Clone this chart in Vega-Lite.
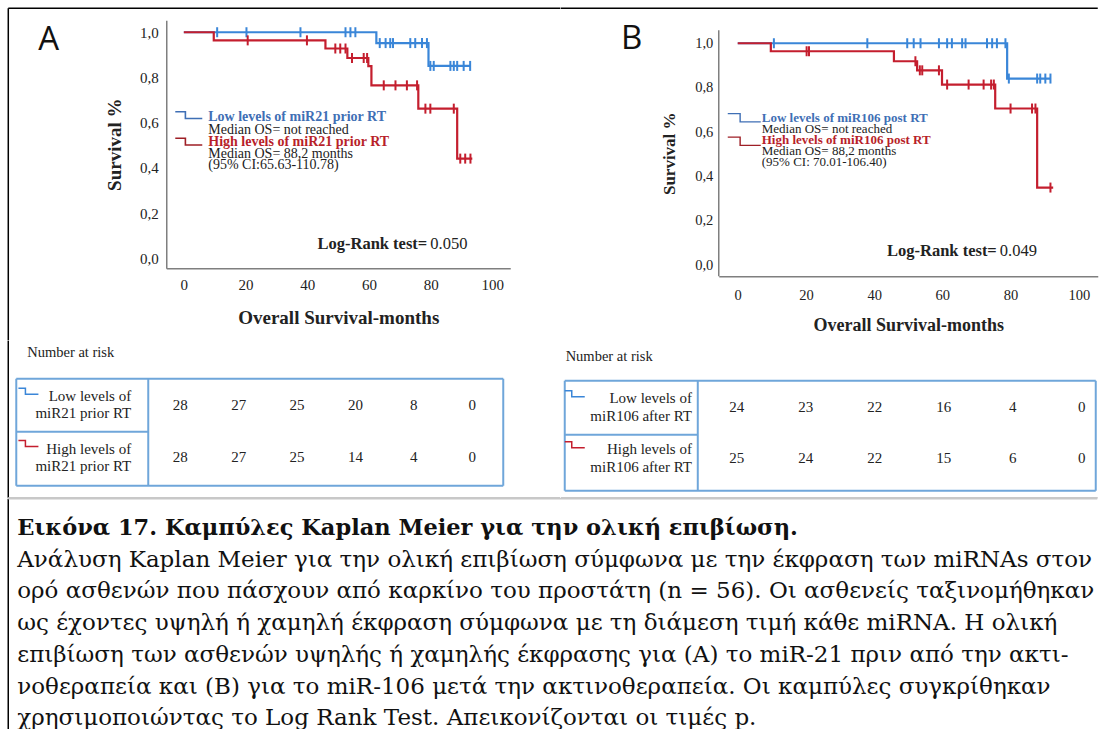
{
  "$schema": "https://vega.github.io/schema/vega-lite/v6.json",
  "background": "white",
  "padding": {"left": 7.25, "top": 7.25, "right": 0, "bottom": 0},
  "config": {
    "font": "Liberation Serif",
    "view": {"stroke": null},
    "axis": {"ticks": false, "grid": false, "domainColor": "#7f7f7f", "domainWidth": 1.5, "labelColor": "#222222", "titleColor": "#222222", "labelFont": "Liberation Serif", "titleFont": "Liberation Serif", "titleFontWeight": "bold"},
    "text": {"font": "Liberation Serif", "color": "#222222"}
  },
  "datasets": {
    "curvesA": [
      {"grp": "Low", "t": 0, "s": 1}, {"grp": "Low", "t": 62.4, "s": 0.952}, {"grp": "Low", "t": 79.3, "s": 0.851}, {"grp": "Low", "t": 92.8, "s": 0.851},
      {"grp": "High", "t": 0, "s": 1}, {"grp": "High", "t": 9.7, "s": 0.964}, {"grp": "High", "t": 45.9, "s": 0.928}, {"grp": "High", "t": 53.0, "s": 0.886}, {"grp": "High", "t": 59.8, "s": 0.85}, {"grp": "High", "t": 60.8, "s": 0.765}, {"grp": "High", "t": 76.0, "s": 0.662}, {"grp": "High", "t": 88.6, "s": 0.441}, {"grp": "High", "t": 93.5, "s": 0.441}
    ],
    "censA": [
      {"grp": "Low", "t": 10.8, "s": 1}, {"grp": "Low", "t": 20.3, "s": 1}, {"grp": "Low", "t": 37.8, "s": 1}, {"grp": "Low", "t": 52.4, "s": 1}, {"grp": "Low", "t": 54.0, "s": 1}, {"grp": "Low", "t": 55.6, "s": 1},
      {"grp": "Low", "t": 63.5, "s": 0.952}, {"grp": "Low", "t": 65.4, "s": 0.952}, {"grp": "Low", "t": 66.9, "s": 0.952}, {"grp": "Low", "t": 67.8, "s": 0.952}, {"grp": "Low", "t": 73.4, "s": 0.952}, {"grp": "Low", "t": 75.0, "s": 0.952}, {"grp": "Low", "t": 77.2, "s": 0.952}, {"grp": "Low", "t": 78.8, "s": 0.952},
      {"grp": "Low", "t": 79.9, "s": 0.851}, {"grp": "Low", "t": 81.0, "s": 0.851}, {"grp": "Low", "t": 86.4, "s": 0.851}, {"grp": "Low", "t": 87.5, "s": 0.851}, {"grp": "Low", "t": 88.6, "s": 0.851}, {"grp": "Low", "t": 90.7, "s": 0.851}, {"grp": "Low", "t": 92.8, "s": 0.851},
      {"grp": "High", "t": 20.7, "s": 0.964}, {"grp": "High", "t": 39.9, "s": 0.964},
      {"grp": "High", "t": 49.1, "s": 0.928}, {"grp": "High", "t": 50.7, "s": 0.928}, {"grp": "High", "t": 52.4, "s": 0.928},
      {"grp": "High", "t": 54.5, "s": 0.886}, {"grp": "High", "t": 58.3, "s": 0.886}, {"grp": "High", "t": 59.4, "s": 0.886},
      {"grp": "High", "t": 64.8, "s": 0.765}, {"grp": "High", "t": 68.6, "s": 0.765}, {"grp": "High", "t": 72.3, "s": 0.765}, {"grp": "High", "t": 75.6, "s": 0.765},
      {"grp": "High", "t": 78.3, "s": 0.662}, {"grp": "High", "t": 79.9, "s": 0.662}, {"grp": "High", "t": 87.5, "s": 0.662},
      {"grp": "High", "t": 89.6, "s": 0.441}, {"grp": "High", "t": 91.2, "s": 0.441}, {"grp": "High", "t": 92.9, "s": 0.441}
    ],
    "curvesB": [
      {"grp": "Low", "t": 0, "s": 1}, {"grp": "Low", "t": 79.0, "s": 0.841}, {"grp": "Low", "t": 91.7, "s": 0.841},
      {"grp": "High", "t": 0, "s": 1}, {"grp": "High", "t": 9.7, "s": 0.964}, {"grp": "High", "t": 45.8, "s": 0.919}, {"grp": "High", "t": 52.6, "s": 0.878}, {"grp": "High", "t": 59.9, "s": 0.814}, {"grp": "High", "t": 75.5, "s": 0.706}, {"grp": "High", "t": 87.8, "s": 0.35}, {"grp": "High", "t": 92.5, "s": 0.35}
    ],
    "censB": [
      {"grp": "Low", "t": 10.6, "s": 1}, {"grp": "Low", "t": 38.0, "s": 1}, {"grp": "Low", "t": 49.7, "s": 1}, {"grp": "Low", "t": 51.6, "s": 1}, {"grp": "Low", "t": 53.6, "s": 1}, {"grp": "Low", "t": 59.0, "s": 1}, {"grp": "Low", "t": 61.4, "s": 1}, {"grp": "Low", "t": 62.8, "s": 1}, {"grp": "Low", "t": 65.8, "s": 1}, {"grp": "Low", "t": 66.8, "s": 1}, {"grp": "Low", "t": 73.1, "s": 1}, {"grp": "Low", "t": 74.6, "s": 1}, {"grp": "Low", "t": 76.0, "s": 1}, {"grp": "Low", "t": 78.5, "s": 1},
      {"grp": "Low", "t": 79.5, "s": 0.841}, {"grp": "Low", "t": 87.8, "s": 0.841}, {"grp": "Low", "t": 88.7, "s": 0.841}, {"grp": "Low", "t": 90.2, "s": 0.841}, {"grp": "Low", "t": 91.7, "s": 0.841},
      {"grp": "High", "t": 20.2, "s": 0.964}, {"grp": "High", "t": 20.9, "s": 0.964},
      {"grp": "High", "t": 52.1, "s": 0.919},
      {"grp": "High", "t": 53.4, "s": 0.878}, {"grp": "High", "t": 54.1, "s": 0.878}, {"grp": "High", "t": 59.0, "s": 0.878},
      {"grp": "High", "t": 61.4, "s": 0.814}, {"grp": "High", "t": 67.7, "s": 0.814}, {"grp": "High", "t": 72.1, "s": 0.814}, {"grp": "High", "t": 74.3, "s": 0.814}, {"grp": "High", "t": 75.1, "s": 0.814},
      {"grp": "High", "t": 80.0, "s": 0.706}, {"grp": "High", "t": 86.3, "s": 0.706}, {"grp": "High", "t": 87.3, "s": 0.706},
      {"grp": "High", "t": 91.7, "s": 0.35}
    ],
    "riskA": [
      {"grp": "Low", "row": 1, "t": 0, "n": 28}, {"grp": "Low", "row": 1, "t": 20, "n": 27}, {"grp": "Low", "row": 1, "t": 40, "n": 25}, {"grp": "Low", "row": 1, "t": 60, "n": 20}, {"grp": "Low", "row": 1, "t": 80, "n": 8}, {"grp": "Low", "row": 1, "t": 100, "n": 0},
      {"grp": "High", "row": 2, "t": 0, "n": 28}, {"grp": "High", "row": 2, "t": 20, "n": 27}, {"grp": "High", "row": 2, "t": 40, "n": 25}, {"grp": "High", "row": 2, "t": 60, "n": 14}, {"grp": "High", "row": 2, "t": 80, "n": 4}, {"grp": "High", "row": 2, "t": 100, "n": 0}
    ],
    "riskB": [
      {"grp": "Low", "row": 1, "t": 0, "n": 24}, {"grp": "Low", "row": 1, "t": 20, "n": 23}, {"grp": "Low", "row": 1, "t": 40, "n": 22}, {"grp": "Low", "row": 1, "t": 60, "n": 16}, {"grp": "Low", "row": 1, "t": 80, "n": 4}, {"grp": "Low", "row": 1, "t": 100, "n": 0},
      {"grp": "High", "row": 2, "t": 0, "n": 25}, {"grp": "High", "row": 2, "t": 20, "n": 24}, {"grp": "High", "row": 2, "t": 40, "n": 22}, {"grp": "High", "row": 2, "t": 60, "n": 15}, {"grp": "High", "row": 2, "t": 80, "n": 6}, {"grp": "High", "row": 2, "t": 100, "n": 0}
    ],
    "labA": [
      {"grp": "Low", "row": 1, "label": ["Low levels of", "miR21 prior RT"]},
      {"grp": "High", "row": 2, "label": ["High levels of", "miR21 prior RT"]}
    ],
    "labB": [
      {"grp": "Low", "row": 1, "label": ["Low levels of", "miR106 after RT"]},
      {"grp": "High", "row": 2, "label": ["High levels of", "miR106 after RT"]}
    ],
    "caption": [
      {"line": 0, "kind": "title", "text": "Εικόνα 17. Καμπύλες Kaplan Meier για την ολική επιβίωση."},
      {"line": 1, "kind": "body", "text": "Ανάλυση Kaplan Meier για την ολική επιβίωση σύμφωνα με την έκφραση των miRNAs στον"},
      {"line": 2, "kind": "body", "text": "ορό ασθενών που πάσχουν από καρκίνο του προστάτη (n = 56). Οι ασθενείς ταξινομήθηκαν"},
      {"line": 3, "kind": "body", "text": "ως έχοντες υψηλή ή χαμηλή έκφραση σύμφωνα με τη διάμεση τιμή κάθε miRNA. Η ολική"},
      {"line": 4, "kind": "body", "text": "επιβίωση των ασθενών υψηλής ή χαμηλής έκφρασης για (A) το miR-21 πριν από την ακτι-"},
      {"line": 5, "kind": "body", "text": "νοθεραπεία και (B) για το miR-106 μετά την ακτινοθεραπεία. Οι καμπύλες συγκρίθηκαν"},
      {"line": 6, "kind": "body", "text": "χρησιμοποιώντας το Log Rank Test. Απεικονίζονται οι τιμές p."}
    ]
  },
  "spacing": -1.5,
  "vconcat": [
    {
      "spacing": -1.5,
      "hconcat": [
        {
          "width": 344,
          "height": 248,
          "layer": [
            {"data": {"name": "curvesA"}, "transform": [{"filter": "datum.grp === 'Low'"}],
             "mark": {"type": "line", "interpolate": "step-after", "strokeWidth": 2.2, "color": "#3a86d8"},
             "encoding": {
               "x": {"field": "t", "type": "quantitative", "scale": {"domain": [-5.7, 105.8], "nice": false, "zero": false},
                     "axis": {"values": [0, 20, 40, 60, 80, 100], "format": "d", "title": "Overall Survival-months", "labelFontSize": 15, "labelPadding": 9, "titleFontSize": 19, "titlePadding": 16}},
               "y": {"field": "s", "type": "quantitative", "scale": {"domain": [-0.044, 1.053], "nice": false, "zero": false},
                     "axis": {"values": [0, 0.2, 0.4, 0.6, 0.8, 1], "labelExpr": "replace(format(datum.value, '.1f'), '.', ',')", "title": "Survival %", "labelFontSize": 15, "labelPadding": 8, "titleFontSize": 19, "titlePadding": 15}}
             }},
            {"data": {"name": "curvesA"}, "transform": [{"filter": "datum.grp === 'High'"}],
             "mark": {"type": "line", "interpolate": "step-after", "strokeWidth": 2.2, "color": "#c41e2e"},
             "encoding": {"x": {"field": "t", "type": "quantitative"}, "y": {"field": "s", "type": "quantitative"}}},
            {"data": {"name": "censA"}, "mark": {"type": "tick", "orient": "vertical", "size": 10, "thickness": 2, "opacity": 1},
             "encoding": {"x": {"field": "t", "type": "quantitative"}, "y": {"field": "s", "type": "quantitative"},
                          "color": {"field": "grp", "type": "nominal", "scale": {"domain": ["Low", "High"], "range": ["#3a86d8", "#c41e2e"]}, "legend": null}}},
            {"data": {"values": [{}]}, "mark": {"type": "rule", "color": "#000000", "strokeWidth": 1.5},
             "encoding": {"x": {"datum": -56.9, "type": "quantitative"}, "x2": {"datum": 122.0}, "y": {"datum": 1.106, "type": "quantitative"}}},
            {"data": {"values": [{}]}, "mark": {"type": "rule", "color": "#000000", "strokeWidth": 1.5},
             "encoding": {"x": {"datum": -56.9, "type": "quantitative"}, "y": {"datum": 1.106, "type": "quantitative"}, "y2": {"datum": -0.3625}}},
            {"data": {"values": [{}]}, "mark": {"type": "point", "shape": "M -1 -0.25 H -0.25 V 0.25 H 1", "filled": false, "size": 729, "strokeWidth": 1.6, "color": "#3f6fb5", "opacity": 1},
             "encoding": {"x": {"datum": 1.6, "type": "quantitative"}, "y": {"datum": 0.633, "type": "quantitative"}}},
            {"data": {"values": [{}]}, "mark": {"type": "point", "shape": "M -1 -0.25 H -0.25 V 0.25 H 1", "filled": false, "size": 729, "strokeWidth": 1.6, "color": "#9e1f26", "opacity": 1},
             "encoding": {"x": {"datum": 1.6, "type": "quantitative"}, "y": {"datum": 0.516, "type": "quantitative"}}},
            {"data": {"values": [{}]}, "mark": {"type": "text", "align": "left", "baseline": "middle", "fontSize": 14, "fontWeight": "bold", "color": "#3f6fb5"},
             "encoding": {"x": {"datum": 7.91, "type": "quantitative"}, "y": {"datum": 0.6239, "type": "quantitative"}, "text": {"value": "Low levels of miR21 prior RT"}}},
            {"data": {"values": [{}]}, "mark": {"type": "text", "align": "left", "baseline": "middle", "fontSize": 14, "color": "#222222"},
             "encoding": {"x": {"datum": 7.91, "type": "quantitative"}, "y": {"datum": 0.5664, "type": "quantitative"}, "text": {"value": "Median OS= not reached"}}},
            {"data": {"values": [{}]}, "mark": {"type": "text", "align": "left", "baseline": "middle", "fontSize": 14, "fontWeight": "bold", "color": "#b81f2a"},
             "encoding": {"x": {"datum": 7.91, "type": "quantitative"}, "y": {"datum": 0.5134, "type": "quantitative"}, "text": {"value": "High levels of miR21 prior RT"}}},
            {"data": {"values": [{}]}, "mark": {"type": "text", "align": "left", "baseline": "middle", "fontSize": 14, "color": "#222222"},
             "encoding": {"x": {"datum": 7.91, "type": "quantitative"}, "y": {"datum": 0.4603, "type": "quantitative"}, "text": {"value": "Median OS= 88,2 months"}}},
            {"data": {"values": [{}]}, "mark": {"type": "text", "align": "left", "baseline": "middle", "fontSize": 14, "color": "#222222"},
             "encoding": {"x": {"datum": 7.91, "type": "quantitative"}, "y": {"datum": 0.4116, "type": "quantitative"}, "text": {"value": "(95% CI:65.63-110.78)"}}},
            {"data": {"values": [{}]}, "mark": {"type": "text", "align": "right", "baseline": "middle", "fontSize": 16.5, "fontWeight": "bold", "color": "#222222"},
             "encoding": {"x": {"datum": 78.9, "type": "quantitative"}, "y": {"datum": 0.0622, "type": "quantitative"}, "text": {"value": "Log-Rank test="}}},
            {"data": {"values": [{}]}, "mark": {"type": "text", "align": "left", "baseline": "middle", "fontSize": 16.5, "color": "#222222"},
             "encoding": {"x": {"datum": 79.88, "type": "quantitative"}, "y": {"datum": 0.0622, "type": "quantitative"}, "text": {"value": "0.050"}}},
            {"data": {"values": [{}]}, "mark": {"type": "text", "align": "center", "baseline": "middle", "fontSize": 33, "font": "Open Sans", "color": "#111111"},
             "encoding": {"x": {"datum": -43.8, "type": "quantitative"}, "y": {"datum": 0.9645, "type": "quantitative"}, "text": {"value": "A"}}}
          ]
        },
        {
          "width": 379,
          "height": 256,
          "layer": [
            {"data": {"name": "curvesB"}, "transform": [{"filter": "datum.grp === 'Low'"}],
             "mark": {"type": "line", "interpolate": "step-after", "strokeWidth": 2.2, "color": "#3a86d8"},
             "encoding": {
               "x": {"field": "t", "type": "quantitative", "scale": {"domain": [-5.57, 105.57], "nice": false, "zero": false},
                     "axis": {"values": [0, 20, 40, 60, 80, 100], "format": "d", "title": "Overall Survival-months", "labelFontSize": 14.5, "labelPadding": 12, "titleFontSize": 18, "titlePadding": 15}},
               "y": {"field": "s", "type": "quantitative", "scale": {"domain": [-0.0495, 1.1036], "nice": false, "zero": false},
                     "axis": {"values": [0, 0.2, 0.4, 0.6, 0.8, 1], "labelExpr": "replace(format(datum.value, '.1f'), '.', ',')", "title": "Survival %", "domain": false, "labelFontSize": 14.5, "labelPadding": 6, "titleFontSize": 17, "titlePadding": 16, "titleY": 133}}
             }},
            {"data": {"name": "curvesB"}, "transform": [{"filter": "datum.grp === 'High'"}],
             "mark": {"type": "line", "interpolate": "step-after", "strokeWidth": 2.2, "color": "#c41e2e"},
             "encoding": {"x": {"field": "t", "type": "quantitative"}, "y": {"field": "s", "type": "quantitative"}}},
            {"data": {"name": "censB"}, "mark": {"type": "tick", "orient": "vertical", "size": 10, "thickness": 2, "opacity": 1},
             "encoding": {"x": {"field": "t", "type": "quantitative"}, "y": {"field": "s", "type": "quantitative"},
                          "color": {"field": "grp", "type": "nominal", "scale": {"domain": ["Low", "High"], "range": ["#3a86d8", "#c41e2e"]}, "legend": null}}},
            {"data": {"values": [{}]}, "mark": {"type": "rule", "color": "#7f7f7f", "strokeWidth": 1.5},
             "encoding": {"x": {"datum": -5.57, "type": "quantitative"}, "y": {"datum": -0.0495, "type": "quantitative"}, "y2": {"datum": 1.0586}}},
            {"data": {"values": [{}]}, "mark": {"type": "rule", "color": "#000000", "strokeWidth": 1.5},
             "encoding": {"x": {"datum": -51.9, "type": "quantitative"}, "x2": {"datum": 105.57}, "y": {"datum": 1.1577, "type": "quantitative"}}},
            {"data": {"values": [{}]}, "mark": {"type": "point", "shape": "M -1 -0.25 H -0.25 V 0.25 H 1", "filled": false, "size": 1089, "strokeWidth": 1.4, "color": "#3f6fb5", "opacity": 1},
             "encoding": {"x": {"datum": 1.91, "type": "quantitative"}, "y": {"datum": 0.6645, "type": "quantitative"}}},
            {"data": {"values": [{}]}, "mark": {"type": "point", "shape": "M -1 -0.25 H -0.25 V 0.25 H 1", "filled": false, "size": 1089, "strokeWidth": 1.4, "color": "#9e1f26", "opacity": 1},
             "encoding": {"x": {"datum": 1.91, "type": "quantitative"}, "y": {"datum": 0.5585, "type": "quantitative"}}},
            {"data": {"values": [{}]}, "mark": {"type": "text", "align": "left", "baseline": "middle", "fontSize": 13, "fontWeight": "bold", "color": "#3f6fb5"},
             "encoding": {"x": {"datum": 7.04, "type": "quantitative"}, "y": {"datum": 0.6622, "type": "quantitative"}, "text": {"value": "Low levels of miR106 post RT"}}},
            {"data": {"values": [{}]}, "mark": {"type": "text", "align": "left", "baseline": "middle", "fontSize": 13, "color": "#222222"},
             "encoding": {"x": {"datum": 7.04, "type": "quantitative"}, "y": {"datum": 0.6127, "type": "quantitative"}, "text": {"value": "Median OS= not reached"}}},
            {"data": {"values": [{}]}, "mark": {"type": "text", "align": "left", "baseline": "middle", "fontSize": 13, "fontWeight": "bold", "color": "#b81f2a"},
             "encoding": {"x": {"datum": 7.04, "type": "quantitative"}, "y": {"datum": 0.5631, "type": "quantitative"}, "text": {"value": "High levels of miR106 post RT"}}},
            {"data": {"values": [{}]}, "mark": {"type": "text", "align": "left", "baseline": "middle", "fontSize": 13, "color": "#222222"},
             "encoding": {"x": {"datum": 7.04, "type": "quantitative"}, "y": {"datum": 0.5136, "type": "quantitative"}, "text": {"value": "Median OS= 88,2 months"}}},
            {"data": {"values": [{}]}, "mark": {"type": "text", "align": "left", "baseline": "middle", "fontSize": 13, "color": "#222222"},
             "encoding": {"x": {"datum": 7.04, "type": "quantitative"}, "y": {"datum": 0.464, "type": "quantitative"}, "text": {"value": "(95% CI: 70.01-106.40)"}}},
            {"data": {"values": [{}]}, "mark": {"type": "text", "align": "right", "baseline": "middle", "fontSize": 16.5, "fontWeight": "bold", "color": "#222222"},
             "encoding": {"x": {"datum": 75.96, "type": "quantitative"}, "y": {"datum": 0.0645, "type": "quantitative"}, "text": {"value": "Log-Rank test="}}},
            {"data": {"values": [{}]}, "mark": {"type": "text", "align": "left", "baseline": "middle", "fontSize": 16.5, "color": "#222222"},
             "encoding": {"x": {"datum": 76.84, "type": "quantitative"}, "y": {"datum": 0.0645, "type": "quantitative"}, "text": {"value": "0.049"}}},
            {"data": {"values": [{}]}, "mark": {"type": "text", "align": "center", "baseline": "middle", "fontSize": 33, "font": "Open Sans", "color": "#111111"},
             "encoding": {"x": {"datum": -31.08, "type": "quantitative"}, "y": {"datum": 1.0203, "type": "quantitative"}, "text": {"value": "B"}}}
          ]
        }
      ]
    },
    {
      "spacing": -1.5,
      "hconcat": [
        {
          "width": 337,
          "height": 107,
          "layer": [
            {"data": {"name": "riskA"}, "mark": {"type": "text", "fontSize": 15, "align": "center", "baseline": "middle", "color": "#222222"},
             "encoding": {
               "x": {"field": "t", "type": "quantitative", "scale": {"domain": [-4.795, 110.62], "nice": false, "zero": false}, "axis": null},
               "y": {"field": "row", "type": "quantitative", "scale": {"domain": [0.5, 2.55], "nice": false, "zero": false, "reverse": true}, "axis": null},
               "text": {"field": "n", "type": "quantitative"}}},
            {"data": {"values": [{}]}, "mark": {"type": "rule", "color": "#000000", "strokeWidth": 1.5},
             "encoding": {"x": {"datum": -58.9, "type": "quantitative"}, "y": {"datum": -0.228, "type": "quantitative"}, "y2": {"datum": 2.78}}},
            {"data": {"values": [{}]}, "mark": {"type": "rule", "color": "#c8c8c8", "strokeWidth": 1.5},
             "encoding": {"x": {"datum": -58.9, "type": "quantitative"}, "x2": {"datum": 130.1}, "y": {"datum": 2.78, "type": "quantitative"}}},
            {"data": {"values": [{}]}, "mark": {"type": "rule", "color": "#6fa6da", "strokeWidth": 2},
             "encoding": {"x": {"datum": -56.16, "type": "quantitative"}, "x2": {"datum": 110.62}, "y": {"datum": 0.5, "type": "quantitative"}}},
            {"data": {"values": [{}]}, "mark": {"type": "rule", "color": "#6fa6da", "strokeWidth": 2},
             "encoding": {"x": {"datum": -56.16, "type": "quantitative"}, "x2": {"datum": 110.62}, "y": {"datum": 2.55, "type": "quantitative"}}},
            {"data": {"values": [{}]}, "mark": {"type": "rule", "color": "#6fa6da", "strokeWidth": 2},
             "encoding": {"x": {"datum": -56.16, "type": "quantitative"}, "y": {"datum": 0.5, "type": "quantitative"}, "y2": {"datum": 2.55}}},
            {"data": {"values": [{}]}, "mark": {"type": "rule", "color": "#6fa6da", "strokeWidth": 2},
             "encoding": {"x": {"datum": 110.62, "type": "quantitative"}, "y": {"datum": 0.5, "type": "quantitative"}, "y2": {"datum": 2.55}}},
            {"data": {"values": [{}]}, "mark": {"type": "rule", "color": "#6fa6da", "strokeWidth": 2},
             "encoding": {"x": {"datum": -10.96, "type": "quantitative"}, "y": {"datum": 0.5, "type": "quantitative"}, "y2": {"datum": 2.55}}},
            {"data": {"values": [{}]}, "mark": {"type": "rule", "color": "#6fa6da", "strokeWidth": 2},
             "encoding": {"x": {"datum": -56.16, "type": "quantitative"}, "x2": {"datum": -10.96}, "y": {"datum": 1.515, "type": "quantitative"}}},
            {"data": {"name": "labA"}, "mark": {"type": "text", "fontSize": 15, "align": "right", "baseline": "middle", "lineHeight": 17, "color": "#222222", "yOffset": -8.5},
             "encoding": {"x": {"datum": -16.8, "type": "quantitative"}, "y": {"field": "row", "type": "quantitative"}, "text": {"field": "label", "type": "nominal"}}},
            {"data": {"name": "labA"}, "mark": {"type": "point", "shape": "M -1 -0.3 H -0.3 V 0.3 H 1", "filled": false, "size": 400, "strokeWidth": 1.5, "opacity": 1, "yOffset": -13.5},
             "encoding": {"x": {"datum": -52, "type": "quantitative"}, "y": {"field": "row", "type": "quantitative"},
                          "color": {"field": "grp", "type": "nominal", "scale": {"domain": ["Low", "High"], "range": ["#3a6fb0", "#b01e28"]}, "legend": null}}},
            {"data": {"values": [{}]}, "mark": {"type": "text", "fontSize": 14.5, "align": "left", "baseline": "middle", "color": "#222222"},
             "encoding": {"x": {"datum": -52.4, "type": "quantitative"}, "y": {"datum": 0.002, "type": "quantitative"}, "text": {"value": "Number at risk"}}}
          ]
        },
        {
          "width": 531,
          "height": 112,
          "layer": [
            {"data": {"name": "riskB"}, "mark": {"type": "text", "fontSize": 15, "align": "center", "baseline": "middle", "color": "#222222"},
             "encoding": {
               "x": {"field": "t", "type": "quantitative", "scale": {"domain": [-49.86, 104.06], "nice": false, "zero": false}, "axis": null},
               "y": {"field": "row", "type": "quantitative", "scale": {"domain": [0.451, 2.647], "nice": false, "zero": false, "reverse": true}, "axis": null},
               "text": {"field": "n", "type": "quantitative"}}},
            {"data": {"values": [{}]}, "mark": {"type": "rule", "color": "#c8c8c8", "strokeWidth": 1.5},
             "encoding": {"x": {"datum": -51.0, "type": "quantitative"}, "x2": {"datum": 104.64}, "y": {"datum": 2.7843, "type": "quantitative"}}},
            {"data": {"values": [{}]}, "mark": {"type": "rule", "color": "#6fa6da", "strokeWidth": 2},
             "encoding": {"x": {"datum": -49.86, "type": "quantitative"}, "x2": {"datum": 104.06}, "y": {"datum": 0.4902, "type": "quantitative"}}},
            {"data": {"values": [{}]}, "mark": {"type": "rule", "color": "#6fa6da", "strokeWidth": 2},
             "encoding": {"x": {"datum": -49.86, "type": "quantitative"}, "x2": {"datum": 104.06}, "y": {"datum": 2.647, "type": "quantitative"}}},
            {"data": {"values": [{}]}, "mark": {"type": "rule", "color": "#6fa6da", "strokeWidth": 2},
             "encoding": {"x": {"datum": -49.86, "type": "quantitative"}, "y": {"datum": 0.4902, "type": "quantitative"}, "y2": {"datum": 2.647}}},
            {"data": {"values": [{}]}, "mark": {"type": "rule", "color": "#6fa6da", "strokeWidth": 2},
             "encoding": {"x": {"datum": 104.06, "type": "quantitative"}, "y": {"datum": 0.4902, "type": "quantitative"}, "y2": {"datum": 2.647}}},
            {"data": {"values": [{}]}, "mark": {"type": "rule", "color": "#6fa6da", "strokeWidth": 2},
             "encoding": {"x": {"datum": -11.3, "type": "quantitative"}, "y": {"datum": 0.4902, "type": "quantitative"}, "y2": {"datum": 2.647}}},
            {"data": {"values": [{}]}, "mark": {"type": "rule", "color": "#6fa6da", "strokeWidth": 2},
             "encoding": {"x": {"datum": -49.86, "type": "quantitative"}, "x2": {"datum": -11.3}, "y": {"datum": 1.549, "type": "quantitative"}}},
            {"data": {"name": "labB"}, "mark": {"type": "text", "fontSize": 15, "align": "right", "baseline": "middle", "lineHeight": 18, "color": "#222222", "yOffset": -9},
             "encoding": {"x": {"datum": -13.0, "type": "quantitative"}, "y": {"field": "row", "type": "quantitative"}, "text": {"field": "label", "type": "nominal"}}},
            {"data": {"name": "labB"}, "mark": {"type": "point", "shape": "M -1 -0.3 H -0.3 V 0.3 H 1", "filled": false, "size": 400, "strokeWidth": 1.5, "opacity": 1, "yOffset": -13},
             "encoding": {"x": {"datum": -46.96, "type": "quantitative"}, "y": {"field": "row", "type": "quantitative"},
                          "color": {"field": "grp", "type": "nominal", "scale": {"domain": ["Low", "High"], "range": ["#3a6fb0", "#b01e28"]}, "legend": null}}},
            {"data": {"values": [{}]}, "mark": {"type": "text", "fontSize": 14.5, "align": "left", "baseline": "middle", "color": "#222222"},
             "encoding": {"x": {"datum": -49.6, "type": "quantitative"}, "y": {"datum": 0.0196, "type": "quantitative"}, "text": {"value": "Number at risk"}}}
          ]
        }
      ]
    },
    {
      "width": 931,
      "height": 232,
      "layer": [
        {"data": {"name": "caption"}, "transform": [{"filter": "datum.kind === 'title'"}],
         "mark": {"type": "text", "align": "left", "baseline": "middle", "font": "DejaVu Serif", "fontWeight": "bold", "fontSize": 22.5, "color": "#111111"},
         "encoding": {
           "x": {"datum": -0.16004, "type": "quantitative", "scale": {"domain": [0, 1], "nice": false, "zero": false}, "axis": null},
           "y": {"field": "line", "type": "quantitative", "scale": {"domain": [-0.9134, 6.3937], "nice": false, "zero": false, "reverse": true}, "axis": null},
           "text": {"field": "text", "type": "nominal"}}},
        {"data": {"name": "caption"}, "transform": [{"filter": "datum.kind === 'body'"}],
         "mark": {"type": "text", "align": "left", "baseline": "middle", "font": "DejaVu Serif", "fontSize": 23, "color": "#111111"},
         "encoding": {
           "x": {"datum": -0.16004, "type": "quantitative"},
           "y": {"field": "line", "type": "quantitative"},
           "text": {"field": "text", "type": "nominal"}}},
        {"data": {"values": [{}]}, "mark": {"type": "rule", "color": "#000000", "strokeWidth": 1.5},
         "encoding": {"x": {"datum": -0.16971, "type": "quantitative"}, "y": {"datum": -0.9134, "type": "quantitative"}, "y2": {"datum": 6.3937}}},
        {"data": {"values": [{}]}, "mark": {"type": "rule", "color": "#c8c8c8", "strokeWidth": 1.5},
         "encoding": {"x": {"datum": -0.16971, "type": "quantitative"}, "x2": {"datum": 1}, "y": {"datum": -0.9134, "type": "quantitative"}}}
      ]
    }
  ]
}
